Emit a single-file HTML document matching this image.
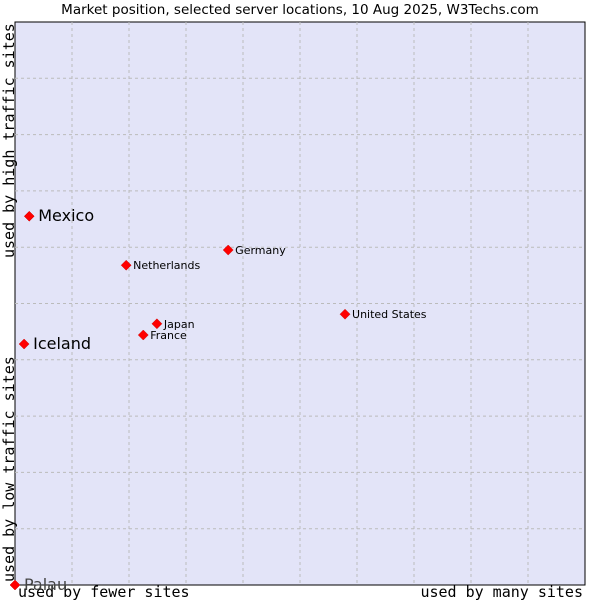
<!DOCTYPE html>
<html><head><meta charset="utf-8"><style>
body{margin:0;background:#fff;width:600px;height:600px;overflow:hidden}
svg{display:block}
</style></head><body>
<svg id="chart" width="600" height="600" xmlns="http://www.w3.org/2000/svg">
<text x="300" y="14" text-anchor="middle" font-family="DejaVu Sans, sans-serif" font-size="13.5" fill="#000">Market position, selected server locations, 10 Aug 2025, W3Techs.com</text>
<rect x="15" y="22" width="570" height="563" fill="#e3e4f8" stroke="#000" stroke-width="1"/>
<g id="grid"></g>
<text transform="translate(14,258) rotate(-90)" font-family="DejaVu Sans Mono, monospace" font-size="15">used by high traffic sites</text>
<text transform="translate(14,582) rotate(-90)" font-family="DejaVu Sans Mono, monospace" font-size="15">used by low traffic sites</text>
<text x="18" y="597" font-family="DejaVu Sans Mono, monospace" font-size="15">used by fewer sites</text>
<text x="583" y="597" text-anchor="end" font-family="DejaVu Sans Mono, monospace" font-size="15">used by many sites</text>
<g id="points"></g>
</svg>
<script>
const countries=["Mexico","Iceland","Germany","Netherlands","United States","Japan","France","Palau"];
const xValues=[2.5,1.6,37.4,19.5,57.9,24.9,22.5,0];
const yValues=[65.5,42.8,59.5,56.8,48.1,46.4,44.4,0];
const bigLabel=[true,true,false,false,false,false,false,true];
const NS="http://www.w3.org/2000/svg";
const X0=15,W=570,Y0=585,H=563;
const xs=v=>X0+v/100*W, ys=v=>Y0-v/100*H;
const g=document.getElementById('grid');
for(let i=1;i<10;i++){
  const v=document.createElementNS(NS,'line');
  v.setAttribute('x1',xs(i*10));v.setAttribute('x2',xs(i*10));v.setAttribute('y1',22);v.setAttribute('y2',585);
  v.setAttribute('stroke','#bbb');v.setAttribute('stroke-dasharray','3,3');
  
  
  g.appendChild(v);
  const h=document.createElementNS(NS,'line');
  h.setAttribute('x1',15);h.setAttribute('x2',585);h.setAttribute('y1',ys(i*10));h.setAttribute('y2',ys(i*10));
  h.setAttribute('stroke','#bbb');h.setAttribute('stroke-dasharray','3,3');
  
  
  g.appendChild(h);
}
const p=document.getElementById('points');
countries.forEach((c,i)=>{
  const x=xs(xValues[i]),y=ys(yValues[i]);
  const d=document.createElementNS(NS,'path');
  d.setAttribute('d',`M${x},${y-5}L${x+5},${y}L${x},${y+5}L${x-5},${y}Z`);
  d.setAttribute('fill','#f00');
  d.setAttribute('stroke','#c00');
  d.setAttribute('stroke-width','0.5');
  
  
  p.appendChild(d);
  const t=document.createElementNS(NS,'text');
  t.setAttribute('x',x+(bigLabel[i]?9:7));
  t.setAttribute('y',y+(bigLabel[i]?5:4));
  t.setAttribute('font-family','DejaVu Sans, sans-serif');
  t.setAttribute('font-size',bigLabel[i]?16:11);
  t.setAttribute('fill',c==='Palau'?'#444':'#000');
  t.textContent=c;
  
  
  p.appendChild(t);
});
</script>
</body></html>
